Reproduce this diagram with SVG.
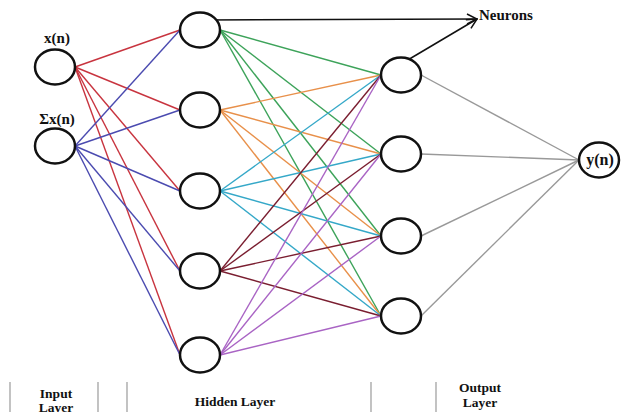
<svg xmlns="http://www.w3.org/2000/svg" width="639" height="412" viewBox="0 0 639 412">
<defs>
<style>
.n{fill:#fff;stroke:#111;stroke-width:2.5}
.e{stroke-width:1.4;fill:none}
.t{font-family:"Liberation Serif","Times New Roman",serif;font-weight:bold;font-size:13.5px;fill:#111}
.b{font-size:15px}
.d{stroke:#9a9a9a;stroke-width:1.2}
</style>
<marker id="ah" viewBox="0 0 12 12" refX="11" refY="6" markerWidth="12" markerHeight="12" markerUnits="userSpaceOnUse" orient="auto">
<path d="M1,1 L11,6 L1,11" fill="none" stroke="#111" stroke-width="1.5"/>
</marker>
</defs>
<rect width="639" height="412" fill="#fff"/>
<g id="connectors">
<g stroke="#c8343f" class="e">
<line x1="75" y1="67" x2="180" y2="30"/>
<line x1="75" y1="67" x2="180" y2="110"/>
<line x1="75" y1="67" x2="180" y2="191"/>
<line x1="75" y1="67" x2="180" y2="271"/>
<line x1="75" y1="67" x2="180" y2="355"/>
</g>
<g stroke="#4b4bb0" class="e">
<line x1="75" y1="146" x2="180" y2="30"/>
<line x1="75" y1="146" x2="180" y2="110"/>
<line x1="75" y1="146" x2="180" y2="191"/>
<line x1="75" y1="146" x2="180" y2="271"/>
<line x1="75" y1="146" x2="180" y2="355"/>
</g>
<g stroke="#3da35a" class="e">
<line x1="220" y1="30" x2="381" y2="75"/>
<line x1="220" y1="30" x2="381" y2="154"/>
<line x1="220" y1="30" x2="381" y2="236"/>
<line x1="220" y1="30" x2="381" y2="316"/>
</g>
<g stroke="#e8904a" class="e">
<line x1="220" y1="110" x2="381" y2="75"/>
<line x1="220" y1="110" x2="381" y2="154"/>
<line x1="220" y1="110" x2="381" y2="236"/>
<line x1="220" y1="110" x2="381" y2="316"/>
</g>
<g stroke="#35a8c8" class="e">
<line x1="220" y1="191" x2="381" y2="75"/>
<line x1="220" y1="191" x2="381" y2="154"/>
<line x1="220" y1="191" x2="381" y2="236"/>
<line x1="220" y1="191" x2="381" y2="316"/>
</g>
<g stroke="#7a1e30" class="e">
<line x1="220" y1="271" x2="381" y2="75"/>
<line x1="220" y1="271" x2="381" y2="154"/>
<line x1="220" y1="271" x2="381" y2="236"/>
<line x1="220" y1="271" x2="381" y2="316"/>
</g>
<g stroke="#a964c4" class="e">
<line x1="220" y1="355" x2="381" y2="75"/>
<line x1="220" y1="355" x2="381" y2="154"/>
<line x1="220" y1="355" x2="381" y2="236"/>
<line x1="220" y1="355" x2="381" y2="316"/>
</g>
<g stroke="#999" class="e">
<line x1="421" y1="75" x2="579" y2="160"/>
<line x1="421" y1="154" x2="579" y2="160"/>
<line x1="421" y1="236" x2="579" y2="160"/>
<line x1="421" y1="316" x2="579" y2="160"/>
</g>
<g stroke="#111" stroke-width="1.5" fill="none">
<line x1="206" y1="20" x2="477" y2="19" marker-end="url(#ah)"/>
<line x1="401" y1="64" x2="477" y2="19" marker-end="url(#ah)"/>
</g>
</g>
<g id="in1"><ellipse class="n" cx="55" cy="67" rx="20" ry="17.5"/><text class="t b" x="57" y="43" text-anchor="middle">x(n)</text></g>
<g id="in2"><ellipse class="n" cx="55" cy="146" rx="20" ry="17.5"/><text class="t b" x="57" y="124" text-anchor="middle">Σx(n)</text></g>
<g id="h1a"><ellipse class="n" cx="200" cy="30" rx="20" ry="17.5"/></g>
<g id="h1b"><ellipse class="n" cx="200" cy="110" rx="20" ry="17.5"/></g>
<g id="h1c"><ellipse class="n" cx="200" cy="191" rx="20" ry="17.5"/></g>
<g id="h1d"><ellipse class="n" cx="200" cy="271" rx="20" ry="17.5"/></g>
<g id="h1e"><ellipse class="n" cx="200" cy="355" rx="20" ry="17.5"/></g>
<g id="h2a"><ellipse class="n" cx="401" cy="75" rx="20" ry="17.5"/></g>
<g id="h2b"><ellipse class="n" cx="401" cy="154" rx="20" ry="17.5"/></g>
<g id="h2c"><ellipse class="n" cx="401" cy="236" rx="20" ry="17.5"/></g>
<g id="h2d"><ellipse class="n" cx="401" cy="316" rx="20" ry="17.5"/></g>
<g id="out"><ellipse class="n" cx="599" cy="160" rx="20" ry="17.5"/><text class="t" style="font-size:16px" x="600" y="165" text-anchor="middle">y(n)</text></g>
<g id="neurons-label"><text class="t b" x="479" y="20">Neurons</text></g>
<g id="footer">
<g class="d">
<line x1="10" y1="382" x2="10" y2="412"/>
<line x1="98" y1="382" x2="98" y2="412"/>
<line x1="127" y1="382" x2="127" y2="412"/>
<line x1="371" y1="382" x2="371" y2="412"/>
<line x1="436" y1="382" x2="436" y2="412"/>
</g>
<text class="t" x="56" y="398" text-anchor="middle">Input</text>
<text class="t" x="56" y="412" text-anchor="middle">Layer</text>
<text class="t" x="235" y="406" text-anchor="middle">Hidden Layer</text>
<text class="t" x="480" y="392" text-anchor="middle">Output</text>
<text class="t" x="480" y="407" text-anchor="middle">Layer</text>
</g>
</svg>
